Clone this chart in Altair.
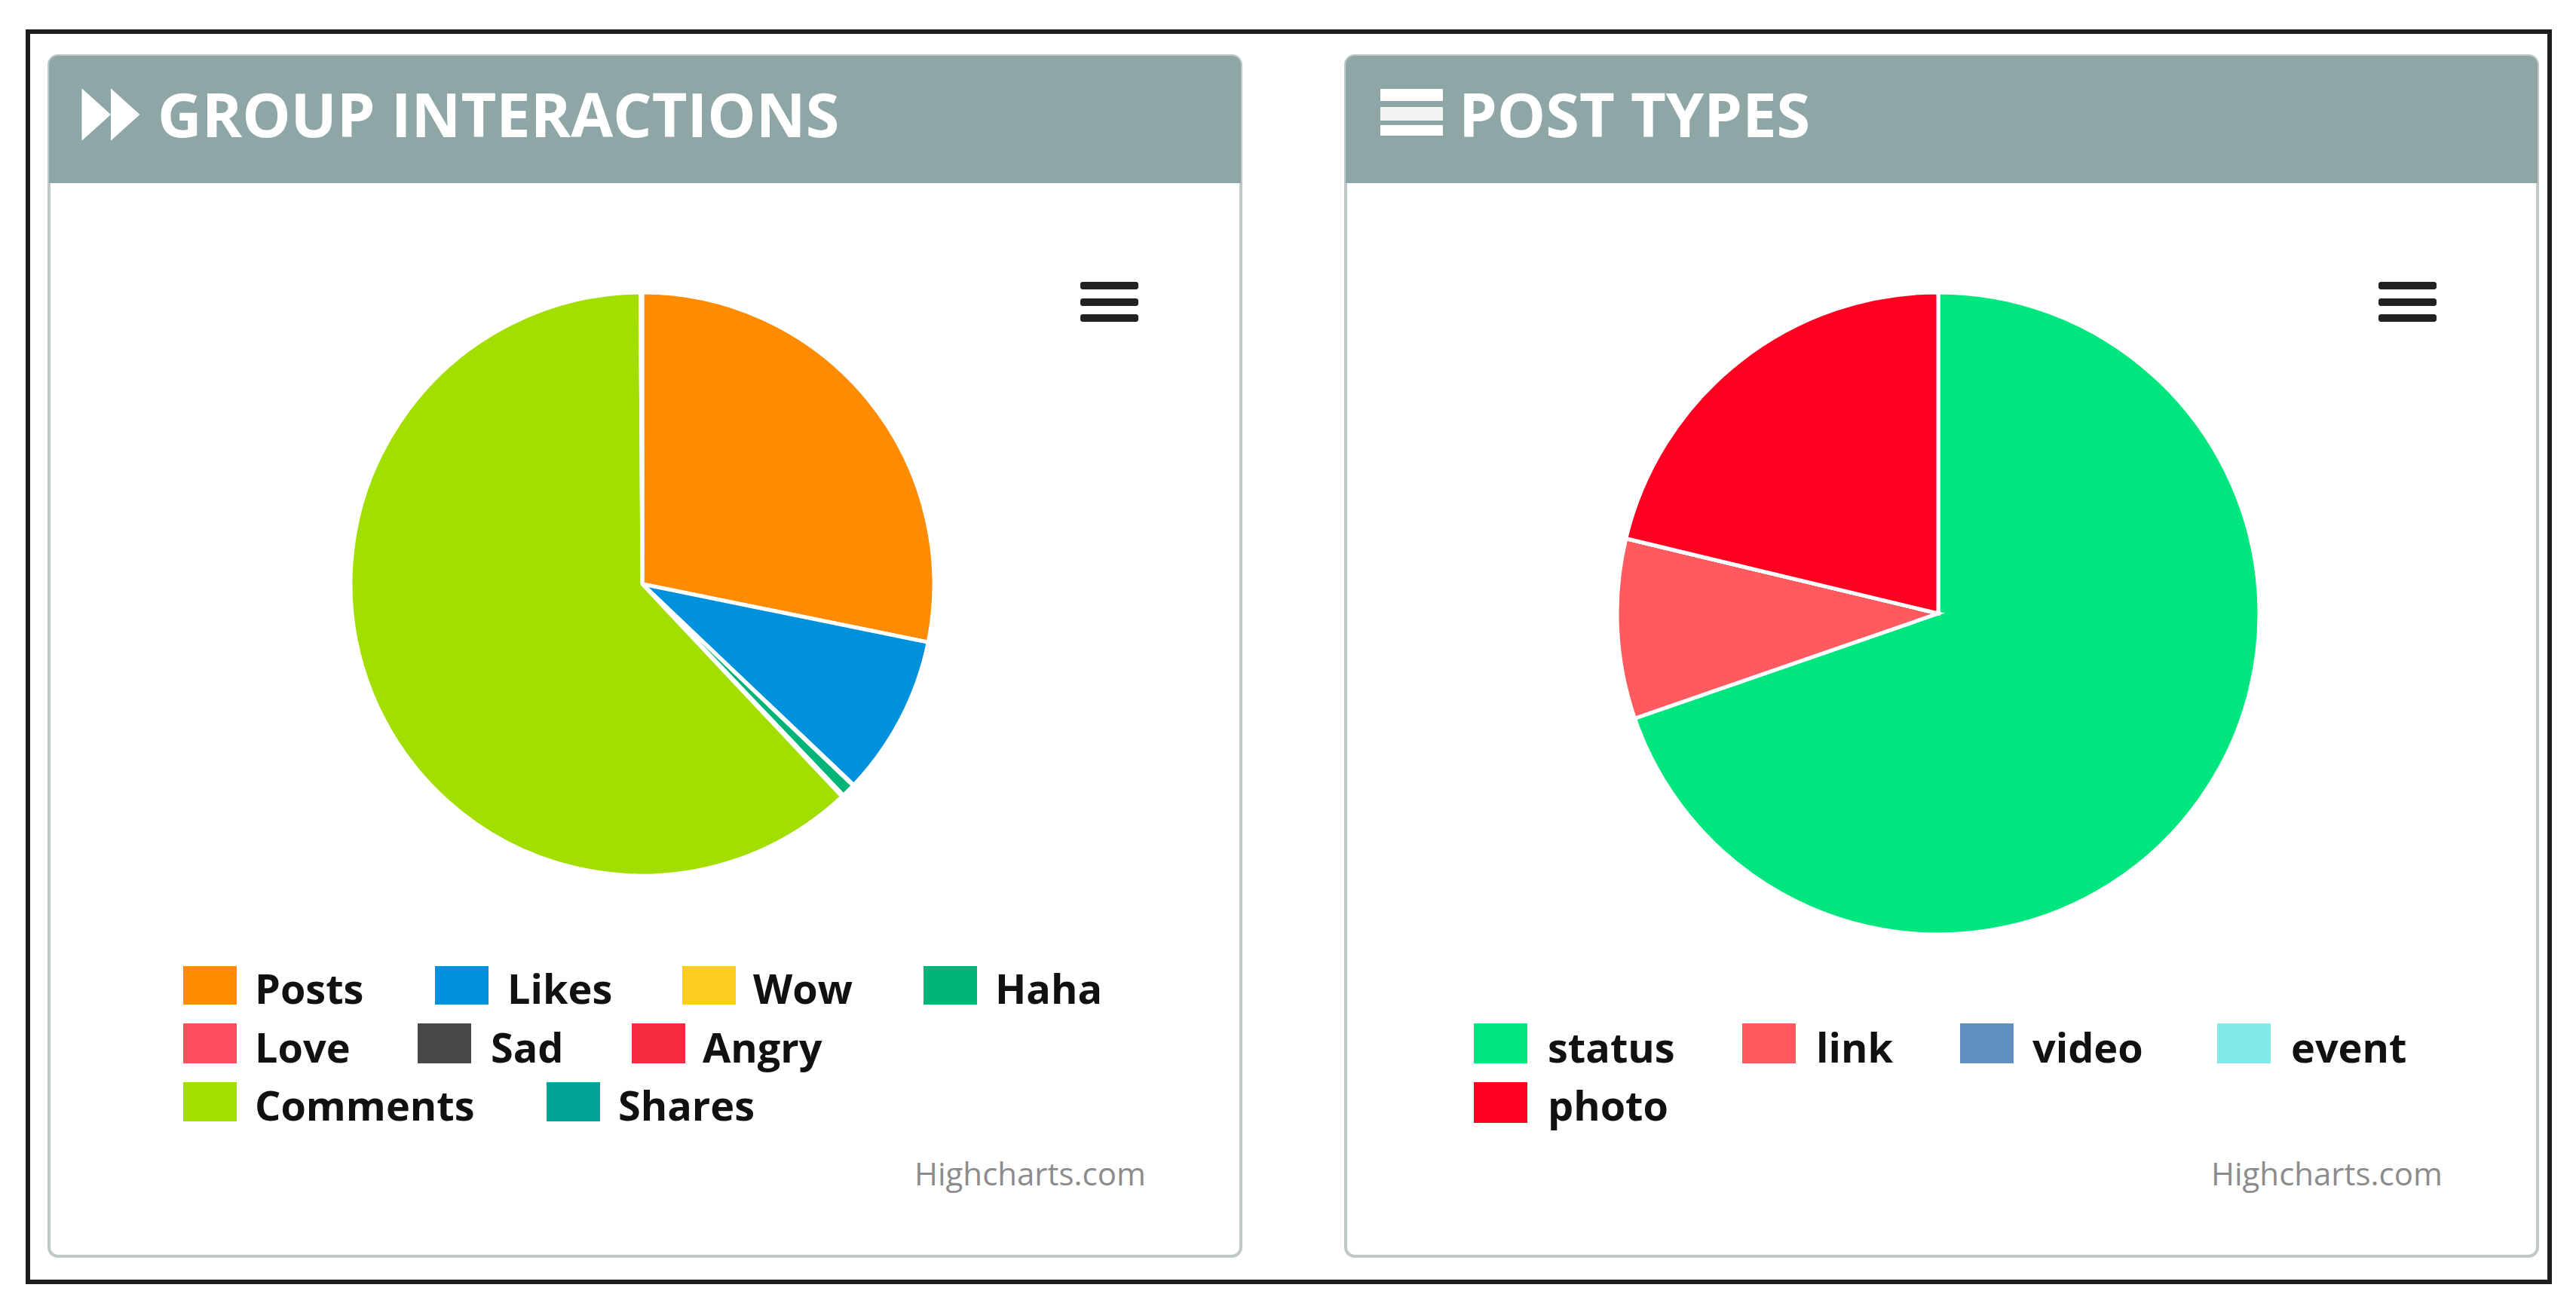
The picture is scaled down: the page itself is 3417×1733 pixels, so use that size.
import altair as alt
import pandas as pd

# ---- chart values (percent of each pie)
group_names = ["Posts", "Likes", "Wow", "Haha", "Love", "Sad", "Angry", "Comments", "Shares"]
group_values = [28.2, 8.9, 0.05, 0.75, 0.05, 0.03, 0.02, 61.9, 0.1]
group_colors = ["#FF8C00", "#0091DC", "#FFCC22", "#00B377", "#FF4D60", "#484848", "#F52A40", "#A2DE00", "#00A398"]

post_names = ["status", "link", "video", "event", "photo"]
post_values = [69.7, 9.05, 0.0, 0.0, 21.25]
post_colors = ["#00E67F", "#FF5A5F", "#5F90BF", "#80EAE6", "#FF0020"]

title_left = "GROUP INTERACTIONS"
title_right = "POST TYPES"
credit = "Highcharts.com"

# ---- layout (page pixels; canvas starts at 8,8)
OFF = 8
legend_rows_left = [(1282, 1333, 1332, [(243, 338), (577, 673), (905, 999), (1225, 1320)]),
                    (1358, 1411, 1410, [(243, 338), (554, 651), (838, 932)]),
                    (1436, 1488, 1487, [(243, 338), (725, 820)])]
legend_rows_right = [(1358, 1411, 1410, [(1955, 2053), (2311, 2409), (2600, 2696), (2941, 3039)]),
                     (1436, 1490, 1487, [(1955, 2053)])]
all_names = group_names + post_names
all_colors = group_colors + post_colors
color_scale = alt.Scale(domain=all_names, range=all_colors)
blank = alt.Data(values=[{"k": 0}])
FONT = "Open Sans"
HEADER = "#8FA6A6"


def box(x0, y0, x1, y1, **mark):
    return alt.Chart(blank).mark_rect(**mark).encode(
        x=alt.value(x0 - OFF), x2=alt.value(x1 - OFF),
        y=alt.value(y0 - OFF), y2=alt.value(y1 - OFF))


def label(text, x, y, **mark):
    return alt.Chart(blank).mark_text(font=FONT, align="left", baseline="alphabetic", **mark).encode(
        x=alt.value(x - OFF), y=alt.value(y - OFF), text=alt.value(text))


def pie(names, values, cx, cy, r):
    df = pd.DataFrame({"name": names, "value": values, "idx": list(range(len(names)))})
    return alt.Chart(df).mark_arc(outerRadius=r, stroke="#FFFFFF", strokeWidth=5).encode(
        theta=alt.Theta("value:Q", stack=True, scale=alt.Scale(domain=[0, 100])),
        color=alt.Color("name:N", scale=color_scale, legend=None),
        order=alt.Order("idx:Q"),
        x=alt.value(cx - OFF), y=alt.value(cy - OFF))


def legend(names, rows, fs):
    recs = []
    it = iter(names)
    for y0, y1, base, items in rows:
        for sx, tx in items:
            recs.append({"name": next(it), "x0": sx - OFF, "x1": sx + 71 - OFF,
                         "y0": y0 - OFF, "y1": y1 - OFF, "tx": tx - OFF, "base": base - OFF})
    df = pd.DataFrame(recs)
    sw = alt.Chart(df).mark_rect().encode(
        x=alt.X("x0:Q", scale=None, axis=None), x2="x1:Q",
        y=alt.Y("y0:Q", scale=None, axis=None), y2="y1:Q",
        color=alt.Color("name:N", scale=color_scale, legend=None))
    tx = alt.Chart(df).mark_text(font=FONT, fontWeight="bold", fontSize=fs, align="left",
                                 baseline="alphabetic", color="#111111").encode(
        x=alt.X("tx:Q", scale=None, axis=None),
        y=alt.Y("base:Q", scale=None, axis=None),
        text="name:N")
    return [sw, tx]


def menu(x0):
    return [box(x0, yc - 5, x0 + 77, yc + 5, color="#222222", cornerRadius=3) for yc in (379, 401, 422)]


chevrons = alt.Chart(blank).mark_point(
    shape="M-1 -.9L0 0L-1 .9ZM0 -.9L1 0L0 .9Z", filled=True, size=77 * 77, opacity=1, color="#FFFFFF"
).encode(x=alt.value(147 - OFF), y=alt.value(152 - OFF))

layers = [
    box(37, 42, 3382, 1701, fill="#FFFFFF", stroke="#1E1E1E", strokeWidth=6),
    box(65, 74, 1646, 1667, fill="#FFFFFF", stroke="#BFC9C9", strokeWidth=4, cornerRadius=12),
    box(1785, 74, 3366, 1667, fill="#FFFFFF", stroke="#BFC9C9", strokeWidth=4, cornerRadius=12),
    box(65, 74, 1646, 243, fill=HEADER, cornerRadiusTopLeft=12, cornerRadiusTopRight=12),
    box(1785, 74, 3366, 243, fill=HEADER, cornerRadiusTopLeft=12, cornerRadiusTopRight=12),
    chevrons,
    label(title_left, 209, 182, fontSize=81, fontWeight="bold", color="#FFFFFF"),
    box(1831, 118, 1914, 134, color="#FFFFFF"),
    box(1831, 142, 1914, 160, color="#F2F4F4"),
    box(1831, 166, 1914, 180, color="#FFFFFF"),
    label(title_right, 1935, 182, fontSize=81, fontWeight="bold", color="#FFFFFF"),
    pie(group_names, group_values, 852, 775, 387),
    pie(post_names, post_values, 2571, 814, 426),
    *menu(1433),
    *menu(3155),
    *legend(group_names, legend_rows_left, 54),
    *legend(post_names, legend_rows_right, 54),
    label(credit, 1213, 1573, fontSize=42, color="#8C8C8C"),
    label(credit, 2933, 1573, fontSize=42, color="#8C8C8C"),
]

chart = alt.layer(*layers).properties(
    width=3395, height=1705, padding=0, autosize=alt.AutoSizeParams(type="none"), background="#FFFFFF"
).configure_view(stroke=None)

chart.save("out.html", embed_options={"renderer": "svg", "actions": False})
